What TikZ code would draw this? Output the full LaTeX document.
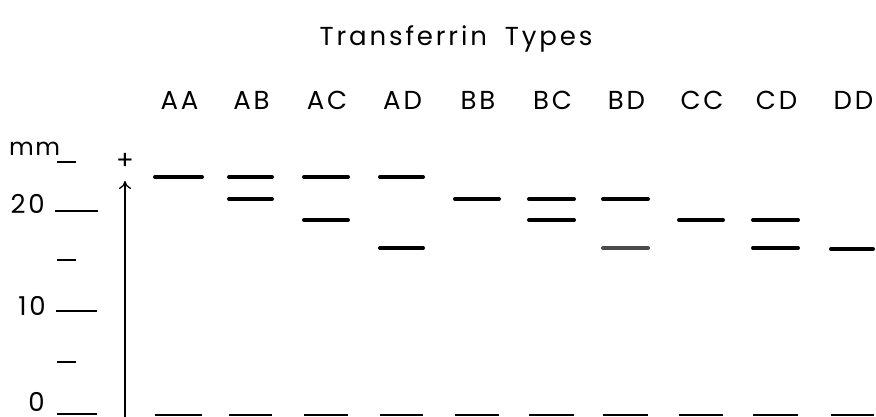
\documentclass[tikz,border=0pt]{standalone}
\usepackage{fontspec}
\setmainfont{Poppins}[LetterSpace=11]
\usetikzlibrary{arrows.meta}
\begin{document}
\begin{tikzpicture}[x=1pt,y=-1pt,
  band/.style={line width=4pt,line cap=round},
  faintband/.style={band,draw=black!70},
  baseln/.style={line width=1.4pt},
  tickln/.style={line width=1.2pt},
  lbl/.style={font=\fontsize{26}{26}\selectfont,inner sep=0pt,anchor=base},
  num/.style={font=\fontsize{26}{26}\selectfont,inner sep=0pt,anchor=base}]
\useasboundingbox (0,0) rectangle (876,417);
% title
\node[lbl] (title) at (456,46) {Transferrin\hspace{18pt}Types};
% column labels and bands
\foreach \name/\xa/\xb in {AA/155/202,AB/229/272,AC/304/348,AD/380/423,BB/455/499,BC/529/574,BD/603/648,CC/679/723,CD/753/798,DD/831/874}{
  \node[lbl] (lab\name) at ({(\xa+\xb)/2+1},110) {\name};
  \coordinate (b\name l) at (\xa,415);
  \coordinate (b\name r) at (\xb,415);
  \draw[baseln] (b\name l) -- (b\name r);
}
\foreach \xa/\xb/\yy in {155/202/177, 229/272/177, 229/272/199, 304/348/177, 304/348/220,
  380/423/177, 380/423/248, 455/499/199, 529/574/199, 529/574/220, 603/648/199,
  679/723/220, 753/798/220, 753/798/248, 831/873/249}{
  \draw[band] (\xa,\yy) -- (\xb,\yy);
}
\draw[faintband] (603,248) -- (648,248);
% scale
\node[font=\fontsize{24}{24}\selectfont,inner sep=0pt,anchor=base west] (mm) at (9,156) {\addfontfeature{LetterSpace=6}mm};
\node[num,anchor=base east] (n20) at (45,214) {20};
\node[num,anchor=base east] (n10) at (46,315) {10};
\node[num,anchor=base east] (n0) at (45,411) {0};
\coordinate (t25a) at (57,162); \coordinate (t25b) at (76,162);
\coordinate (t20a) at (55,211); \coordinate (t20b) at (98,211);
\coordinate (t15a) at (57,260); \coordinate (t15b) at (76,260);
\coordinate (t10a) at (56,311); \coordinate (t10b) at (97,311);
\coordinate (t5a) at (57,362); \coordinate (t5b) at (76,362);
\coordinate (t0a) at (57,414); \coordinate (t0b) at (97,414);
\foreach \t in {25,20,15,10,5,0}{\draw[tickln] (t\t a) -- (t\t b);}
% arrow
\coordinate (arrbot) at (125,417);
\coordinate (arrtop) at (125,181);
\draw[line width=1.3pt,-{To[length=8pt,width=12pt]}] (arrbot) -- (arrtop);
\node[font=\fontsize{26}{26}\selectfont,inner sep=0pt] (plus) at (125,161) {+};
\end{tikzpicture}
\end{document}
